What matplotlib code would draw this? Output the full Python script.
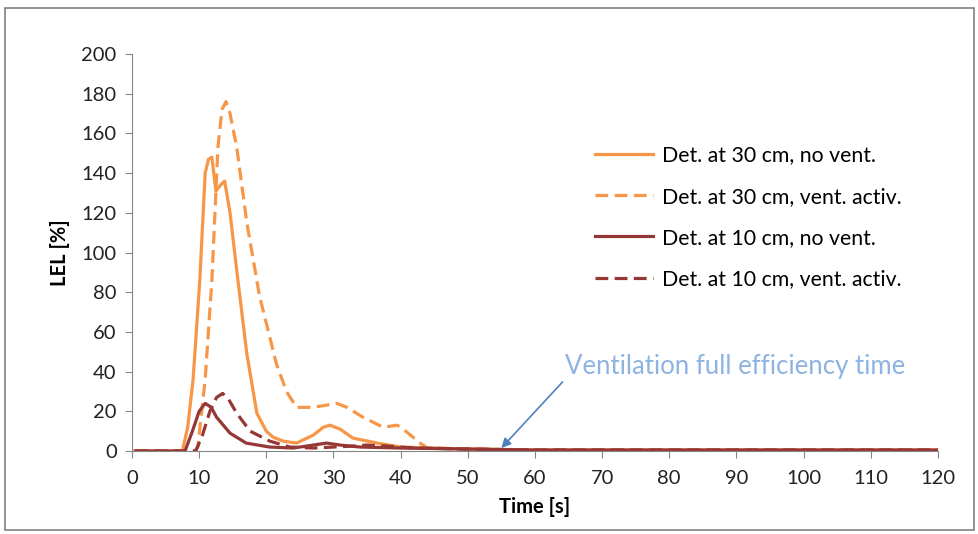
import matplotlib.pyplot as plt
import matplotlib.patches as mpatches

plt.rcParams['font.family'] = ['Lato', 'DejaVu Sans']

# Det. at 30 cm, no vent.
t_30_nv = [0.5, 7.5, 8.3, 9.1, 10.1, 10.9, 11.4, 11.9, 12.5, 13.2, 13.8, 14.6, 15.6, 17.1, 18.6,
           20, 21, 22.5, 24.5, 27, 28.5, 29.5, 31, 32.9, 36.5, 40, 45, 50, 60, 120]
v_30_nv = [0, 0, 12, 36, 86, 140, 147, 148, 131, 134, 136, 120, 91, 49, 19,
           10, 7, 5, 4, 8, 12, 13, 11, 6.5, 4, 2, 1.5, 1, 0.5, 0.5]

# Det. at 30 cm, vent. activ.
t_30_v = [0.5, 9.3, 9.8, 10.9, 11.9, 12.8, 13.4, 14, 14.6, 15.6, 17.1, 19, 21.5, 23, 24.5, 27,
          30.5, 32, 34.4, 37.4, 39.5, 40.4, 42.9, 44, 50, 60, 120]
v_30_v = [0, 0, 2, 36, 86, 153, 172, 176, 170, 153, 115, 78, 44, 30, 22, 22,
          24, 22, 17, 12, 13, 11, 4, 1.5, 1, 0.5, 0.5]

# Det. at 10 cm, no vent.
t_10_nv = [0.5, 7.9, 9, 10, 10.9, 11.8, 12.6, 14.6, 17, 20.5, 24, 27, 29, 31, 34, 40, 50, 60, 120]
v_10_nv = [0, 0, 10, 20, 24, 22, 17, 9, 4, 2, 1.5, 3, 4, 3, 2, 1.5, 1, 0.5, 0.5]

# Det. at 10 cm, vent. activ.
t_10_v = [0.5, 9.5, 10.5, 11.6, 12.6, 13.5, 14.4, 15.6, 17.6, 20.5, 23.5, 27, 30, 33, 35, 38, 42,
          50, 60, 120]
v_10_v = [0, 0, 8, 20, 27, 29, 26, 19, 10, 5, 2, 1.5, 2, 2.5, 3, 2.5, 1.5, 1, 0.5, 0.5]

labels = ["Det. at 30 cm, no vent.", "Det. at 30 cm, vent. activ.",
          "Det. at 10 cm, no vent.", "Det. at 10 cm, vent. activ."]

orange = '#F79646'
darkred = '#953735'

fig = plt.figure(figsize=(9.79, 5.34), dpi=100)
ax = fig.add_axes([0.1348, 0.1554, 0.8232, 0.7435])

# cadre gris autour de la figure
fig.patches.append(mpatches.Rectangle((0.005, 0.007), 0.99, 0.978, transform=fig.transFigure,
                                      fill=False, edgecolor='#808080', linewidth=1.2))

ax.plot(t_30_nv, v_30_nv, color=orange, lw=2.3, label=labels[0])
ax.plot(t_30_v, v_30_v, color=orange, lw=2.3, dashes=(4, 2), label=labels[1])
ax.plot(t_10_nv, v_10_nv, color=darkred, lw=2.3, label=labels[2])
ax.plot(t_10_v, v_10_v, color=darkred, lw=2.3, dashes=(4, 2), label=labels[3])

ax.set_xlim(0, 120)
ax.set_ylim(0, 200)
ax.set_xticks(range(0, 121, 10))
ax.set_yticks(range(0, 201, 20))
ax.spines['top'].set_visible(False)
ax.spines['right'].set_visible(False)
ax.spines['left'].set_color('#868686')
ax.spines['bottom'].set_color('#868686')
ax.tick_params(axis='both', colors='#868686', labelcolor='#222222', labelsize=14.5,
               length=5, direction='out')
ax.tick_params(axis='x', pad=9)
ax.tick_params(axis='y', pad=6)

ax.set_xlabel("Time [s]", fontsize=14.5, fontweight='bold', labelpad=7)
ax.set_ylabel("LEL [%]", fontsize=14.5, fontweight='bold', labelpad=8)

ax.annotate("Ventilation full efficiency time", xy=(55, 1.5), xytext=(64.5, 42.5),
            color='#8DB3E2', fontsize=18.5, va='center', ha='left',
            arrowprops=dict(arrowstyle='-|>', color='#4F81BD', lw=1.2, mutation_scale=14,
                            shrinkA=0, shrinkB=0, relpos=(0, 0)))

ax.legend(loc='upper left', bbox_to_anchor=(0.551, 0.818), frameon=False, fontsize=15.3,
          handlelength=2.7, labelspacing=1.0, handletextpad=0.45)

plt.savefig('out.png', dpi=100)
